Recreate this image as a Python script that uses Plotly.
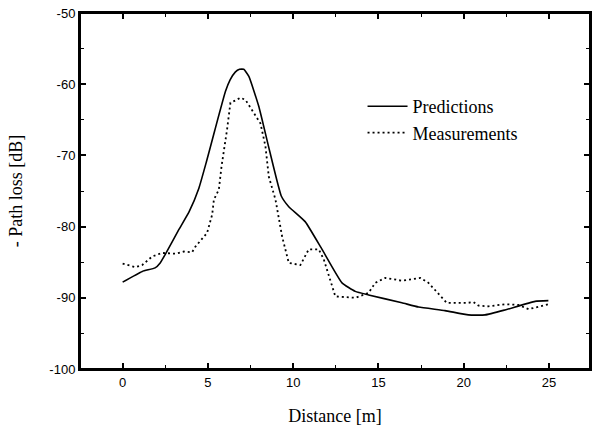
import plotly.graph_objects as go

# Predictions (solid line)
pred_x = [0, 1.15, 1.9, 2.2, 2.5, 3.3, 3.9, 4.47, 4.9, 5.4, 6.03, 6.3, 6.6, 6.85, 7.1, 7.4, 7.98,
          8.6, 9.3, 9.74, 10.7, 11.69, 12.86, 13.64, 14.42, 16.37, 17.35, 18.9, 20.27, 21.25,
          22.42, 24.18, 24.96]
pred_y = [-87.8, -86.3, -85.8, -85.1, -83.9, -80.4, -77.9, -74.6, -71.0, -66.5, -61.0, -59.4, -58.3,
          -57.9, -57.9, -58.9, -63.1, -69.2, -75.7, -77.2, -79.3, -83.2, -87.9, -89.1, -89.6,
          -90.7, -91.3, -91.8, -92.4, -92.4, -91.7, -90.5, -90.4]

# Measurements (dotted line)
meas_x = [0, 0.76, 1.15, 1.73, 2.3, 3.1, 3.59, 4.07, 4.27, 4.95, 5.25, 5.35, 5.64, 5.8, 6.12,
          6.32, 6.6, 6.9, 7.2, 7.59, 8.08, 8.37, 8.57, 8.96, 9.35, 9.74, 10.42, 10.91, 11.5,
          11.79, 12.18, 12.47, 13.64, 14.42, 14.81, 15.4, 16.37, 17.45, 17.93, 18.4, 18.8,
          19.0, 20.27, 20.57, 20.86, 21.45, 22.42, 23.2, 23.8, 24.57, 24.96]
meas_y = [-85.2, -85.7, -85.4, -84.2, -83.7, -83.8, -83.5, -83.6, -82.8, -80.9, -78.3, -76.2,
          -74.8, -71.5, -66.4, -62.6, -62.3, -61.9, -62.2, -63.6, -65.5, -68.7, -73.0, -76.2,
          -81.4, -85.1, -85.4, -83.2, -83.2, -84.6, -87.5, -89.8, -90.0, -89.3, -87.9, -87.2,
          -87.6, -87.2, -87.9, -89.2, -90.3, -90.7, -90.7, -90.6, -91.1, -91.2, -90.9, -91.0,
          -91.6, -91.2, -90.9]

x_ticks = [0, 5, 10, 15, 20, 25]
y_ticks = [-100, -90, -80, -70, -60, -50]

serif = "Liberation Serif, Times New Roman, serif"
sans = "Liberation Sans, Arial, sans-serif"

fig = go.Figure()
fig.add_trace(go.Scatter(x=pred_x, y=pred_y, mode="lines", name="Predictions",
                         line=dict(color="black", width=1.6, shape="spline", smoothing=0.4)))
fig.add_trace(go.Scatter(x=meas_x, y=meas_y, mode="lines", name="Measurements",
                         line=dict(color="black", width=1.8, dash="2px,3px")))

axis_common = dict(showline=True, linecolor="black", linewidth=2, mirror="allticks",
                   ticks="inside", ticklen=6, tickwidth=1.5, tickcolor="black",
                   showgrid=False, zeroline=False, automargin=False,
                   tickfont=dict(family=sans, size=13, color="black"))

fig.update_xaxes(range=[-2.5, 27.4], tickvals=x_ticks, ticktext=[str(v) for v in x_ticks],
                 minor=dict(ticks="inside", ticklen=4, tickwidth=1.2, tickcolor="black", dtick=2.5, tick0=0),
                 title=dict(text="Distance [m]", font=dict(family=serif, size=18, color="black"), standoff=21),
                 **axis_common)
fig.update_yaxes(range=[-100, -50], tickvals=y_ticks, ticktext=[str(v) for v in y_ticks],
                 minor=dict(ticks="inside", ticklen=4, tickwidth=1.2, tickcolor="black", dtick=5, tick0=0),
                 title=dict(text="- Path loss [dB]", font=dict(family=serif, size=18, color="black"), standoff=22),
                 **axis_common)

# frame around the plot area
fig.add_shape(type="rect", xref="paper", yref="paper", x0=0, y0=0, x1=1, y1=1,
              line=dict(color="black", width=2), fillcolor="rgba(0,0,0,0)", layer="above")

fig.update_layout(
    width=593, height=428,
    margin=dict(l=80, r=3, t=13, b=59),
    paper_bgcolor="white", plot_bgcolor="white",
    showlegend=True,
    legend=dict(x=0.554, y=0.789, xanchor="left", yanchor="top",
                bgcolor="rgba(0,0,0,0)", borderwidth=0,
                font=dict(family=serif, size=18, color="black"),
                tracegroupgap=0, itemwidth=40),
)

fig.write_html("out.html", config={"displayModeBar": False},
               post_script="document.body.style.margin='0';")
